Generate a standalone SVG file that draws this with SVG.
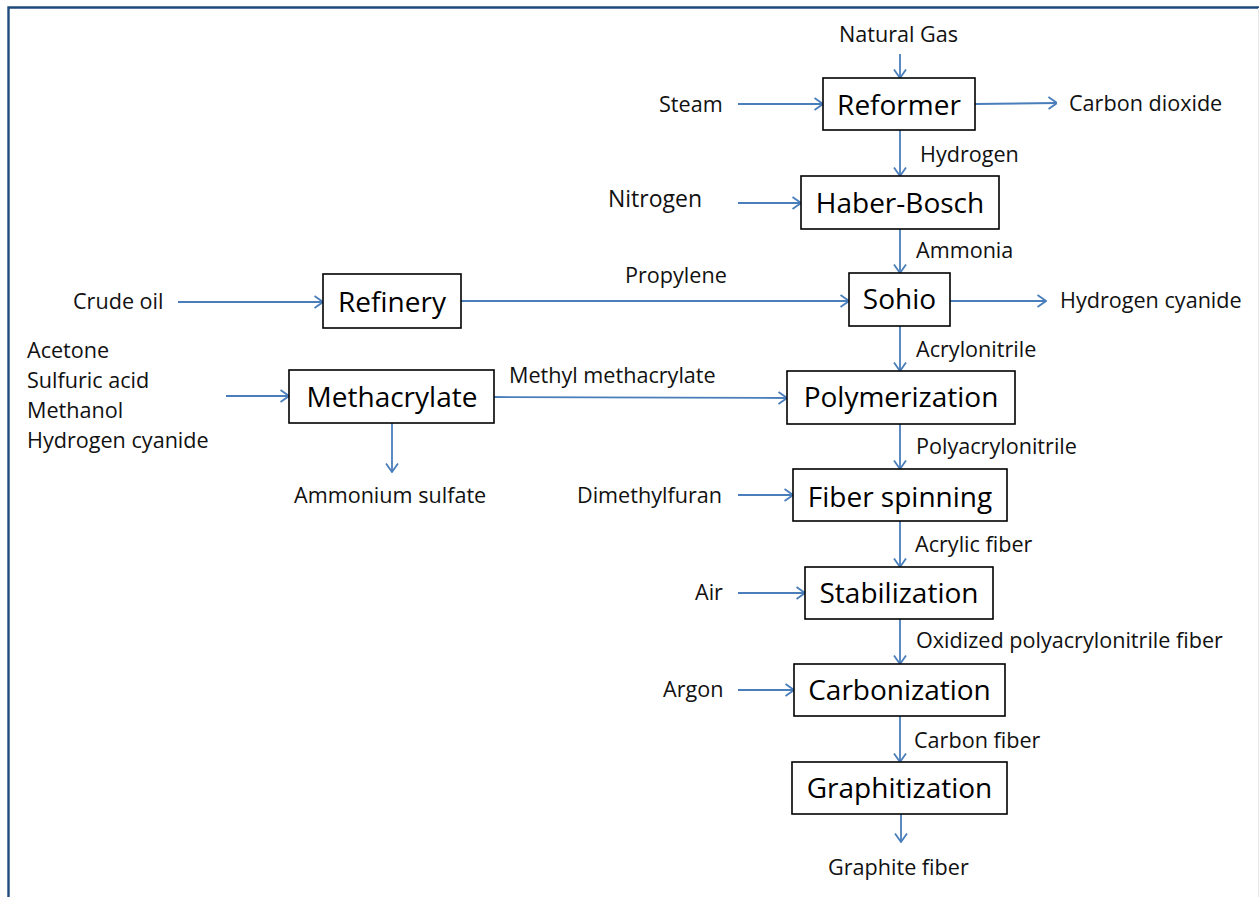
<svg xmlns="http://www.w3.org/2000/svg" width="1259" height="897" viewBox="0 0 1259 897">
<defs>
<style>
.box{fill:#fff;stroke:#000;stroke-width:1.6}
.bt{font-family:"Open Sans","Liberation Sans",sans-serif;font-size:28px;fill:#000;text-anchor:middle}
.lb{font-family:"Open Sans","Liberation Sans",sans-serif;font-size:21.6px;fill:#111}
.c{stroke:#4a7ebb;stroke-width:1.8;fill:none;marker-end:url(#ah)}
.frame{stroke:#1f4a7c;stroke-width:2.4;fill:none}
</style>
<marker id="ah" viewBox="0 0 10 14" refX="9.5" refY="7" markerWidth="10" markerHeight="14" markerUnits="userSpaceOnUse" orient="auto">
<path d="M1,1 L9.5,7 L1,13" fill="none" stroke="#4a7ebb" stroke-width="1.8"/>
</marker>
</defs>
<rect width="1259" height="897" fill="#fff"/>
<path class="frame" d="M8.5,897 L8.5,7.5 L1259,7.5"/>
<line x1="1258.5" y1="8" x2="1258.5" y2="897" stroke="#e6e6e6" stroke-width="1"/>

<g id="connectors">
<line class="c" x1="900" y1="54" x2="900" y2="78"/>
<line class="c" x1="738" y1="104" x2="823" y2="104"/>
<line class="c" x1="975" y1="104" x2="1057" y2="103"/>
<line class="c" x1="900" y1="130" x2="900" y2="176"/>
<line class="c" x1="738" y1="203" x2="801" y2="203"/>
<line class="c" x1="900" y1="229" x2="900" y2="273"/>
<line class="c" x1="178" y1="302" x2="323" y2="302"/>
<line class="c" x1="461" y1="301" x2="849" y2="301"/>
<line class="c" x1="950" y1="301" x2="1046" y2="301"/>
<line class="c" x1="900" y1="326" x2="900" y2="371"/>
<line class="c" x1="226" y1="396" x2="289" y2="396"/>
<line class="c" x1="392" y1="423" x2="392" y2="472"/>
<line class="c" x1="494" y1="397" x2="787" y2="398"/>
<line class="c" x1="900" y1="424" x2="900" y2="469"/>
<line class="c" x1="738" y1="495" x2="793" y2="495"/>
<line class="c" x1="900" y1="521" x2="900" y2="567"/>
<line class="c" x1="738" y1="593" x2="805" y2="593"/>
<line class="c" x1="900" y1="619" x2="900" y2="664"/>
<line class="c" x1="738" y1="690" x2="794" y2="690"/>
<line class="c" x1="900" y1="716" x2="900" y2="762"/>
<line class="c" x1="901" y1="814" x2="901" y2="842"/>
</g>

<g id="n-reformer"><rect class="box" x="823" y="78" width="152" height="52"/><text class="bt" x="899" y="115">Reformer</text></g>
<g id="n-haber"><rect class="box" x="801" y="176" width="198" height="53"/><text class="bt" x="900" y="213">Haber-Bosch</text></g>
<g id="n-sohio"><rect class="box" x="849" y="273" width="101" height="53"/><text class="bt" x="899.5" y="309">Sohio</text></g>
<g id="n-refinery"><rect class="box" x="323" y="274" width="138" height="54"/><text class="bt" x="392" y="312">Refinery</text></g>
<g id="n-methacrylate"><rect class="box" x="289" y="370" width="205" height="53"/><text class="bt" x="392" y="407">Methacrylate</text></g>
<g id="n-polymerization"><rect class="box" x="787" y="371" width="228" height="53"/><text class="bt" x="901" y="407">Polymerization</text></g>
<g id="n-fiber"><rect class="box" x="793" y="469" width="214" height="52"/><text class="bt" x="900" y="507">Fiber spinning</text></g>
<g id="n-stabilization"><rect class="box" x="805" y="567" width="188" height="52"/><text class="bt" x="899" y="603">Stabilization</text></g>
<g id="n-carbonization"><rect class="box" x="794" y="664" width="211" height="52"/><text class="bt" x="899.5" y="700">Carbonization</text></g>
<g id="n-graphitization"><rect class="box" x="792" y="762" width="215" height="52"/><text class="bt" x="899.5" y="798">Graphitization</text></g>

<g id="labels">
<text class="lb" x="839" y="42">Natural Gas</text>
<text class="lb" x="659" y="112">Steam</text>
<text class="lb" x="1069" y="111">Carbon dioxide</text>
<text class="lb" x="920" y="162">Hydrogen</text>
<text class="lb" x="608" y="207" style="font-size:23px">Nitrogen</text>
<text class="lb" x="916" y="258">Ammonia</text>
<text class="lb" x="73" y="309">Crude oil</text>
<text class="lb" x="625" y="283">Propylene</text>
<text class="lb" x="1060" y="308">Hydrogen cyanide</text>
<text class="lb" x="916" y="357">Acrylonitrile</text>
<text class="lb" x="27" y="358">Acetone</text>
<text class="lb" x="27" y="388">Sulfuric acid</text>
<text class="lb" x="27" y="418">Methanol</text>
<text class="lb" x="27" y="448">Hydrogen cyanide</text>
<text class="lb" x="509" y="383">Methyl methacrylate</text>
<text class="lb" x="294" y="503">Ammonium sulfate</text>
<text class="lb" x="916" y="454">Polyacrylonitrile</text>
<text class="lb" x="577" y="503">Dimethylfuran</text>
<text class="lb" x="915" y="552">Acrylic fiber</text>
<text class="lb" x="695" y="600">Air</text>
<text class="lb" x="916" y="648">Oxidized polyacrylonitrile fiber</text>
<text class="lb" x="663" y="697">Argon</text>
<text class="lb" x="914" y="748">Carbon fiber</text>
<text class="lb" x="828" y="875">Graphite fiber</text>
</g>
</svg>
